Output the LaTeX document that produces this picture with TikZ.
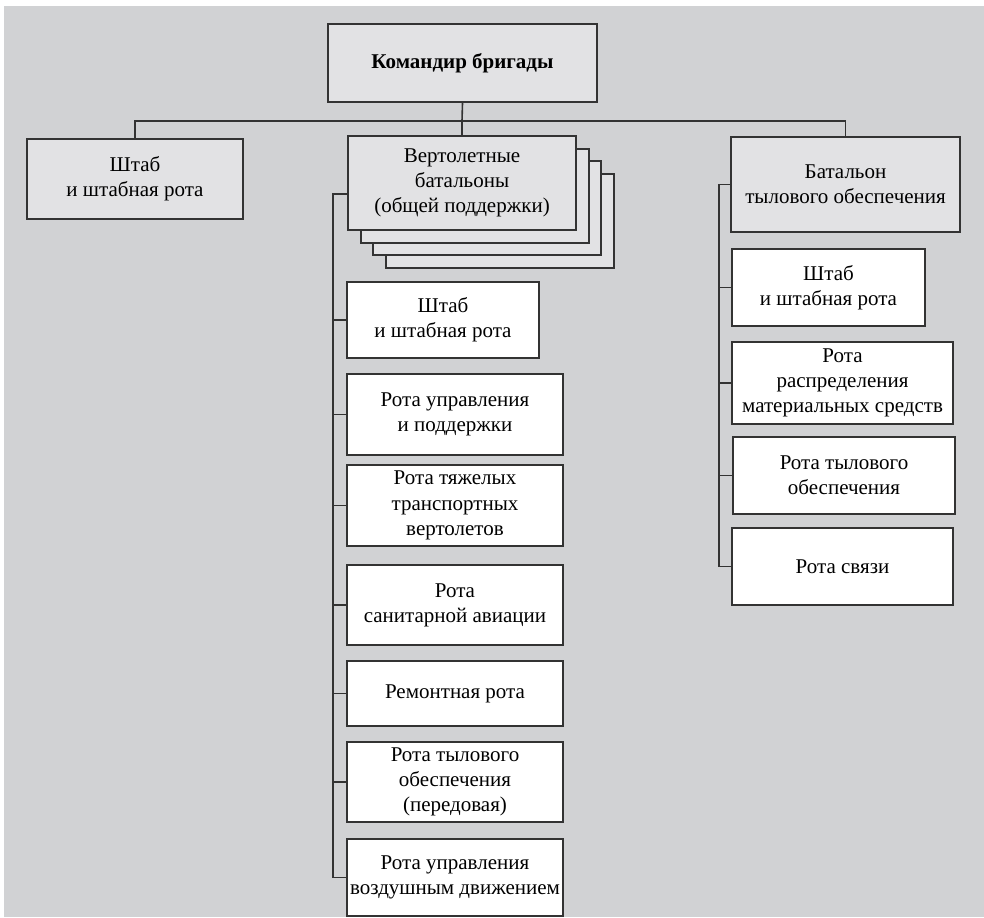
\documentclass[tikz,border=0pt]{standalone}
\usepackage{fontspec}
\setmainfont{Liberation Serif}
\definecolor{bggray}{HTML}{D1D2D4}
\definecolor{topgray}{HTML}{E2E2E4}
\definecolor{linegray}{HTML}{333333}

\tikzset{
  unit/.style={draw=linegray, line width=1pt, align=center, inner sep=0pt,
    font=\fontsize{10.5}{12.6}\selectfont},
  topbox/.style={unit, fill=topgray},
  subbox/.style={unit, fill=white},
  link/.style={draw=linegray, line width=0.8pt}
}

\begin{document}
\begin{tikzpicture}[x=0.5pt, y=-0.5pt]
  \useasboundingbox (0,0) rectangle (984,917);
  \fill[bggray] (4,6) rectangle (984,917);

  % top level
  \node[topbox, minimum width=134.5pt, minimum height=39pt] (cmd) at (462.5,63)
    {\textbf{Командир бригады}};
  \node[topbox, minimum width=108pt, minimum height=40pt] (hq) at (135,179)
    {Штаб\\и штабная рота};
  \foreach \k in {3,2,1}
    \node[topbox, minimum width=114pt, minimum height=47pt] (heli\k)
      at (462+12.7*\k, 183+12.5*\k) {};
  \node[topbox, minimum width=114pt, minimum height=47pt] (heli) at (462,183)
    {Вертолетные\\батальоны\\(общей поддержки)};
  \node[topbox, minimum width=114.5pt, minimum height=47.5pt] (log) at (845.5,184.5)
    {Батальон\\тылового обеспечения};

  % bus
  \coordinate (bus) at (462,121);
  \draw[link] (cmd.south) -- (bus);
  \draw[link] (hq.north) |- (bus) -| (log.north);
  \draw[link] (bus) -- (heli.north);

  % helicopter battalion
  \node[subbox, minimum width=96pt, minimum height=38pt] (m1) at (443,320)
    {Штаб\\и штабная рота};
  \node[subbox, minimum width=108pt, minimum height=40.5pt] (m2) at (455,414.5)
    {Рота управления\\и поддержки};
  \node[subbox, minimum width=108pt, minimum height=40.5pt] (m3) at (455,505.5)
    {Рота тяжелых\\транспортных\\вертолетов};
  \node[subbox, minimum width=108pt, minimum height=40pt] (m4) at (455,605)
    {Рота\\санитарной авиации};
  \node[subbox, minimum width=108pt, minimum height=32.5pt] (m5) at (455,693.5)
    {Ремонтная рота};
  \node[subbox, minimum width=108pt, minimum height=40pt] (m6) at (455,782)
    {Рота тылового\\обеспечения\\(передовая)};
  \node[subbox, minimum width=108pt, minimum height=38.5pt] (m7) at (455,877.5)
    {Рота управления\\воздушным движением};

  \coordinate (hspine) at (333,194);
  \draw[link] (heli.west |- hspine) -- (hspine) -- (m7.west -| hspine) -- (m7.west);
  \foreach \c in {m1,m2,m3,m4,m5,m6}
    \draw[link] (\c.west) -- (\c.west -| hspine);

  % logistics battalion
  \node[subbox, minimum width=96.5pt, minimum height=38.5pt] (r1) at (828.5,287.5)
    {Штаб\\и штабная рота};
  \node[subbox, minimum width=110.5pt, minimum height=41pt] (r2) at (842.5,383)
    {Рота\\распределения\\материальных средств};
  \node[subbox, minimum width=111pt, minimum height=38.5pt] (r3) at (844,475.5)
    {Рота тылового\\обеспечения};
  \node[subbox, minimum width=110.5pt, minimum height=38.5pt] (r4) at (842.5,566.5)
    {Рота связи};

  \coordinate (lspine) at (719,184.5);
  \draw[link] (log.west) -- (lspine) -- (r4.west -| lspine) -- (r4.west);
  \foreach \c in {r1,r2,r3}
    \draw[link] (\c.west) -- (\c.west -| lspine);
\end{tikzpicture}
\end{document}
